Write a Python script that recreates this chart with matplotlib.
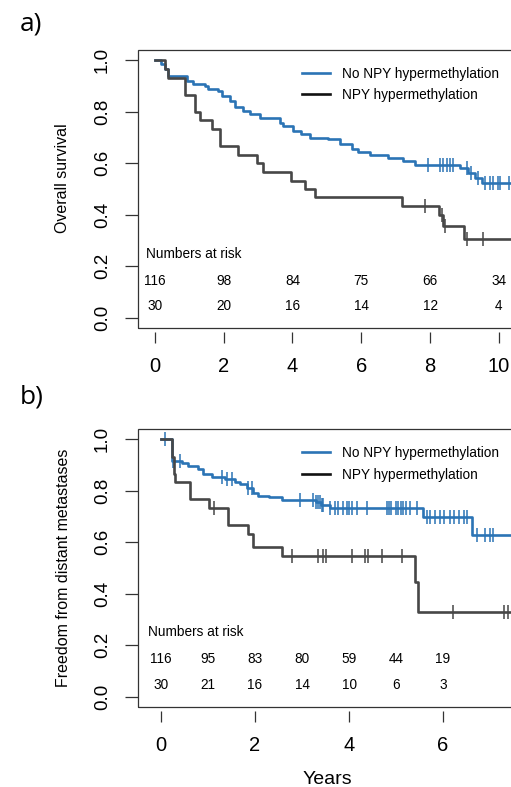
import numpy as np
import matplotlib
matplotlib.use("Agg")
import matplotlib.pyplot as plt
from matplotlib.lines import Line2D
from matplotlib.patches import Rectangle

plt.rcParams['font.family'] = ['Liberation Sans', 'DejaVu Sans']

# ─── DATA ────────────────────────────────────────────────────────────────────
labels = ["No NPY hypermethylation", "NPY hypermethylation"]

# a) overall survival: step times (years) and survival after each step
a_no_t = [0.19, 0.29, 0.39, 0.92, 1.11, 1.45, 1.55, 1.84, 1.94, 2.18, 2.33, 2.57,
          2.76, 3.05, 3.63, 3.73, 4.02, 4.26, 4.50, 5.04, 5.38, 5.72, 5.91, 6.25,
          6.78, 7.20, 7.56, 8.87, 9.11, 9.30, 9.50]
a_no_s = [0.984, 0.965, 0.939, 0.920, 0.909, 0.900, 0.887, 0.881, 0.862, 0.842,
          0.818, 0.803, 0.790, 0.777, 0.757, 0.745, 0.725, 0.712, 0.699, 0.693,
          0.673, 0.654, 0.643, 0.634, 0.621, 0.609, 0.595, 0.582, 0.563, 0.543, 0.524]
a_no_cens = [7.95, 8.28, 8.38, 8.48, 8.58, 8.67, 9.06, 9.20, 9.40, 9.59, 9.74,
             9.84, 9.98, 10.03, 10.30]
a_yes_t = [0.29, 0.38, 0.87, 1.16, 1.31, 1.65, 1.89, 2.42, 2.96, 3.15, 3.97, 4.36,
           4.65, 7.17, 8.27, 8.38, 8.98]
a_yes_s = [0.965, 0.933, 0.867, 0.800, 0.770, 0.733, 0.667, 0.633, 0.600, 0.567,
           0.533, 0.500, 0.467, 0.433, 0.400, 0.355, 0.306]
a_yes_cens = [7.85, 8.34, 8.43, 9.06, 9.54]
a_end = 11.5
a_xticks = [0, 2, 4, 6, 8, 10]
a_risk_times = [0, 2, 4, 6, 8, 10]
a_risk_no = [116, 98, 84, 75, 66, 34]
a_risk_yes = [30, 20, 16, 14, 12, 4]

# b) freedom from distant metastases
b_no_t = [0.23, 0.45, 0.58, 0.79, 0.90, 1.08, 1.36, 1.57, 1.68, 1.82, 1.96, 2.07,
          2.30, 2.57, 3.30, 3.40, 3.60, 5.58, 6.61]
b_no_s = [0.916, 0.906, 0.897, 0.884, 0.864, 0.854, 0.845, 0.835, 0.826, 0.810,
          0.793, 0.780, 0.774, 0.765, 0.755, 0.745, 0.735, 0.697, 0.628]
b_no_cens = [0.09, 0.26, 0.40, 1.29, 1.40, 1.50, 1.86, 1.93, 2.96, 3.24, 3.30,
             3.35, 3.38, 3.42, 3.45, 3.60, 3.70, 3.77, 3.88, 3.95, 3.99, 4.06,
             4.16, 4.38, 4.80, 4.85, 4.90, 5.00, 5.05, 5.10, 5.15, 5.22, 5.30,
             5.44, 5.65, 5.72, 5.82, 5.93, 6.03, 6.14, 6.24, 6.35, 6.45, 6.52,
             6.72, 6.89, 7.00, 7.07]
b_yes_t = [0.24, 0.27, 0.30, 0.62, 1.03, 1.43, 1.86, 1.96, 2.57, 5.40, 5.46]
b_yes_s = [0.933, 0.867, 0.833, 0.767, 0.733, 0.667, 0.633, 0.583, 0.548, 0.444, 0.330]
b_yes_cens = [1.13, 2.78, 3.35, 3.45, 3.52, 4.06, 4.34, 4.41, 4.70, 5.12, 6.22,
              7.29, 7.39]
b_end = 8.0
b_xticks = [0, 2, 4, 6]
b_risk_times = [0, 1, 2, 3, 4, 5, 6]
b_risk_no = [116, 95, 83, 80, 59, 44, 19]
b_risk_yes = [30, 21, 16, 14, 10, 6, 3]

BLUE = "#2b74b5"
GREY = "#474747"

# ─── HELPERS ─────────────────────────────────────────────────────────────────
W, H = 511, 787
fig = plt.figure(figsize=(W / 100, H / 100), dpi=100)


def px_axes(left, top, right, bottom):
    return fig.add_axes([left / W, 1 - bottom / H, (right - left) / W, (bottom - top) / H])


def km(ax, t, s, cens, end, color):
    tt = np.r_[0.0, t, end]
    ss = np.r_[1.0, s, s[-1]]
    ax.step(tt, ss, where="post", color=color, lw=1.9)
    idx = np.searchsorted(tt, cens, side="right") - 1
    ax.plot(cens, ss[idx], ls="none", marker="|", ms=9.5, mew=1.1, color=color)


def style(ax, xlim, xticks):
    ax.set_xlim(*xlim)
    ax.set_ylim(-0.04, 1.04)
    for sp in ax.spines.values():
        sp.set_visible(False)
    ax.spines["bottom"].set_position(("outward", 3))
    ax.add_patch(Rectangle((0, 0), 1, 1, transform=ax.transAxes, fill=False,
                           ec="#333333", lw=0.9, clip_on=False))
    ax.set_xticks(xticks)
    yt = np.arange(0, 1.01, 0.2)
    ax.set_yticks(yt)
    ax.set_yticklabels([f"{v:.1f}" for v in yt], rotation=90, va="center")
    ax.tick_params(axis="x", length=8, width=0.9, color="#333333", pad=10, labelsize=14.5)
    ax.tick_params(axis="y", length=9.4, width=0.9, color="#333333", pad=10, labelsize=13.5)


def risk(ax, x_lab, y_lab, times, row1, row2, y1, y2):
    ax.text(x_lab, y_lab, "Numbers at risk", fontsize=9.8, ha="left", va="center")
    for t, n1, n2 in zip(times, row1, row2):
        ax.text(t, y1, str(n1), fontsize=9.8, ha="center", va="center")
        ax.text(t, y2, str(n2), fontsize=9.8, ha="center", va="center")


handles = [Line2D([], [], color=BLUE, lw=1.9), Line2D([], [], color="#111111", lw=1.9)]
leg_kw = dict(loc="upper left", frameon=False, fontsize=9.8, handlelength=2.1,
              handletextpad=0.85, labelspacing=0.55, borderpad=0, borderaxespad=0)

# ─── PANEL a ─────────────────────────────────────────────────────────────────
ax1 = px_axes(138, 50, 595.3, 328)
style(ax1, (-0.49, 12.8), a_xticks)
km(ax1, a_no_t, a_no_s, a_no_cens, a_end, BLUE)
km(ax1, a_yes_t, a_yes_s, a_yes_cens, a_end, GREY)
risk(ax1, -0.26, 0.248, a_risk_times, a_risk_no, a_risk_yes, 0.144, 0.044)
ax1.legend(handles, labels, bbox_to_anchor=(0.358, 0.94), **leg_kw)
ax1.set_ylabel("Overall survival", fontsize=11.5)
ax1.yaxis.label.set(va="center", ha="center")
ax1.yaxis.set_label_coords((62 - 138) / 457.3, (328 - 178) / 278)

# ─── PANEL b ─────────────────────────────────────────────────────────────────
ax2 = px_axes(138, 429, 757.9, 707)
style(ax2, (-0.49, 12.7), b_xticks)
km(ax2, b_no_t, b_no_s, b_no_cens, b_end, BLUE)
km(ax2, b_yes_t, b_yes_s, b_yes_cens, b_end, GREY)
risk(ax2, -0.27, 0.25, b_risk_times, b_risk_no, b_risk_yes, 0.147, 0.047)
ax2.legend(handles, labels, bbox_to_anchor=(0.264, 0.938), **leg_kw)
ax2.set_ylabel("Freedom from distant metastases", fontsize=11.5)
ax2.yaxis.label.set(va="center", ha="center")
ax2.yaxis.set_label_coords((63 - 138) / 619.9, 0.5)
ax2.set_xlabel("Years", fontsize=14)
ax2.xaxis.label.set(va="center")
ax2.xaxis.set_label_coords((327 - 138) / 619.9, (707 - 780) / 278)

fig.text(20 / W, 1 - 24 / H, "a)", fontsize=19, family="Open Sans", va="center", ha="left")
fig.text(20 / W, 1 - 397 / H, "b)", fontsize=19, family="Open Sans", va="center", ha="left")

fig.savefig("out.png", dpi=100)
